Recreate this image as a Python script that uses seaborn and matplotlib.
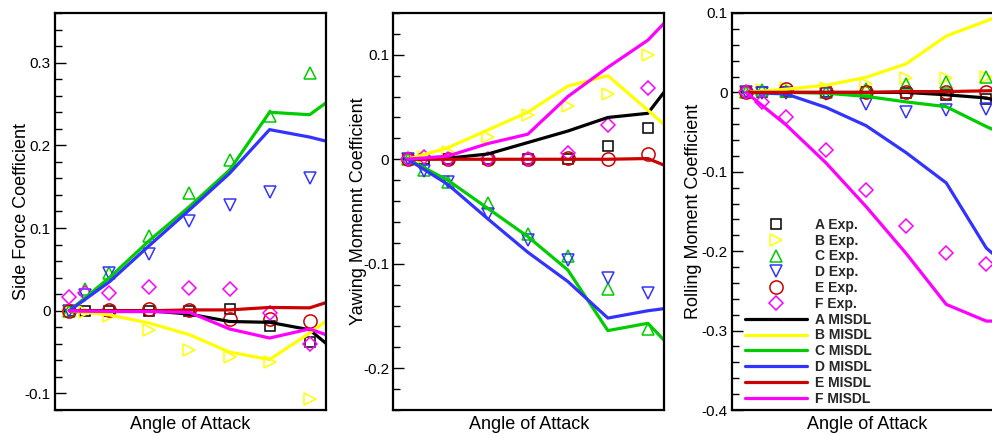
import numpy as np
import pandas as pd
import matplotlib
matplotlib.use('Agg')
import matplotlib.pyplot as plt
import seaborn as sns
from matplotlib.ticker import MultipleLocator, FuncFormatter

sns.set_theme(style='white')
plt.rcParams['font.family'] = ['Liberation Sans', 'DejaVu Sans']
plt.rcParams['axes.unicode_minus'] = False

# ---------------- data ----------------
cases = ['A', 'B', 'C', 'D', 'E', 'F']
colors = ['#000000', '#ffff00', '#00cc00', '#3333ff', '#cc0000', '#ff00ff']
markers = ['s', '>', '^', 'v', 'o', 'D']
marker_sizes = [7, 9, 9, 9, 9.5, 7]

aoa_exp = [0, 4, 10, 20, 30, 40, 50, 60]
aoa_cfd = [0, 10, 20, 30, 40, 50, 60, 70]
nan = np.nan

# Side force coefficient
side_exp = [
    [0, 0, 0, 0, 0, 0.002, -0.018, -0.038],
    [0, -0.001, -0.006, -0.023, -0.047, -0.056, -0.062, -0.107],
    [0, 0.026, 0.046, 0.090, 0.142, 0.182, 0.235, 0.287],
    [0, 0.019, 0.046, 0.069, 0.108, 0.128, 0.143, 0.160],
    [0, nan, 0.001, 0.002, 0.001, -0.010, -0.010, -0.012],
    [0.017, 0.021, 0.021, 0.029, 0.028, 0.026, -0.003, -0.040],
]
side_cfd = [
    [0, 0, 0, -0.004, -0.013, -0.014, -0.023, -0.063],
    [0, -0.005, -0.015, -0.029, -0.050, -0.059, -0.027, 0.008],
    [0, 0.040, 0.085, 0.126, 0.170, 0.240, 0.237, 0.272],
    [0, 0.035, 0.079, 0.122, 0.166, 0.219, 0.210, 0.198],
    [0, 0, 0, 0.001, 0.001, 0.004, 0.0035, 0.019],
    [0, -0.001, -0.001, -0.002, -0.022, -0.033, -0.022, -0.039],
]

# Yawing moment coefficient
yaw_exp = [
    [0, 0, 0, 0, 0, 0, 0.013, 0.030],
    [0, 0.002, 0.007, 0.021, 0.042, 0.051, 0.062, 0.100],
    [0, -0.010, -0.022, -0.042, -0.072, -0.093, -0.124, -0.162],
    [0, -0.011, -0.022, -0.052, -0.077, -0.096, -0.114, -0.128],
    [0, nan, 0, 0, 0, 0.001, 0, 0.005],
    [0, 0.002, 0, 0, 0, 0.006, 0.033, 0.068],
]
yaw_cfd = [
    [0, 0.001, 0.005, 0.016, 0.027, 0.040, 0.044, 0.094],
    [0, 0.011, 0.028, 0.045, 0.070, 0.080, 0.047, 0.013],
    [0, -0.020, -0.047, -0.074, -0.106, -0.164, -0.157, -0.197],
    [0, -0.024, -0.057, -0.089, -0.117, -0.152, -0.145, -0.140],
    [0, 0, 0, 0, 0, 0, 0.0007, -0.015],
    [0, 0.003, 0.015, 0.024, 0.060, 0.088, 0.114, 0.154],
]

# Rolling moment coefficient
roll_exp = [
    [0, 0, 0, 0, 0, -0.001, -0.003, -0.008],
    [0, 0.003, 0.005, 0.006, 0.011, 0.018, 0.018, 0.019],
    [0, 0.003, 0.002, 0.001, 0.004, 0.011, 0.013, 0.019],
    [0, -0.001, -0.001, -0.002, -0.015, -0.025, -0.022, -0.021],
    [0, nan, 0.004, 0, 0.001, 0, 0, 0],
    [0, -0.012, -0.031, -0.073, -0.123, -0.168, -0.202, -0.216],
]
roll_cfd = [
    [0, 0, 0, 0, 0, -0.003, -0.007, -0.020],
    [0, 0.004, 0.009, 0.019, 0.036, 0.071, 0.090, 0.110],
    [0, 0, -0.001, -0.005, -0.012, -0.018, -0.043, -0.065],
    [0, -0.002, -0.019, -0.042, -0.076, -0.114, -0.196, -0.240],
    [0, 0, 0, 0, 0.001, 0.001, 0.002, 0.003],
    [0, -0.041, -0.089, -0.144, -0.203, -0.267, -0.288, -0.288],
]

ylabels = ['Side Force Coefficient', 'Yawing Momennt Coefficient', 'Rolling Moment Coefficient']
ylims = [(-0.12, 0.36), (-0.24, 0.14), (-0.4, 0.1)]
exp_sets = [side_exp, yaw_exp, roll_exp]
cfd_sets = [side_cfd, yaw_cfd, roll_cfd]

# ---------------- figure ----------------
fig = plt.figure(figsize=(9.92, 4.36), dpi=100)
W = 271 / 992
H = 397 / 436
B = 26 / 436
lefts = [55 / 992, 393.3 / 992, 731.7 / 992]
label_x = [-0.092, -0.096, -0.111]


def fmt(v, pos):
    if abs(v) < 1e-9:
        return '0'
    return f'{v:.1f}'


axes = []
for k in range(3):
    ax = fig.add_axes([lefts[k], B, W, H])
    axes.append(ax)
    ex = exp_sets[k]
    cf = cfd_sets[k]
    for i, c in enumerate(cases):
        sns.lineplot(x=aoa_exp, y=ex[i], ax=ax, color=colors[i], marker=markers[i],
                     linestyle='', mfc='none', mec=colors[i], ms=marker_sizes[i], mew=1.1,
                     label=f'{c} Exp.', errorbar=None, estimator=None, sort=False)
    for i, c in enumerate(cases):
        sns.lineplot(x=aoa_cfd, y=cf[i], ax=ax, color=colors[i], lw=2.3,
                     label=f'{c} MISDL', errorbar=None, estimator=None, sort=False)
    if ax.get_legend() is not None:
        ax.get_legend().remove()

    ax.set_xlim(-3.6, 64.1)
    ax.set_ylim(*ylims[k])
    ax.set_xticks([])
    ax.yaxis.set_major_locator(MultipleLocator(0.1))
    ax.yaxis.set_minor_locator(MultipleLocator(0.02))
    ax.yaxis.set_major_formatter(FuncFormatter(fmt))
    ax.tick_params(axis='y', which='major', direction='in', length=8, width=1,
                   labelsize=11, pad=3, left=True, right=False, colors='black')
    ax.tick_params(axis='y', which='minor', direction='in', length=5, width=1,
                   left=True, right=False, colors='black')
    for sp in ax.spines.values():
        sp.set_linewidth(1.6)
        sp.set_color('black')
    ax.set_xlabel('Angle of Attack', fontsize=13, color='black')
    ax.set_ylabel(ylabels[k], fontsize=13, color='black')
    ax.xaxis.set_label_coords(0.5, -0.015)
    ax.yaxis.set_label_coords(label_x[k], 0.5)

ax3 = axes[2]
handles, labels = ax3.get_legend_handles_labels()
ax3.legend(handles, labels, loc='upper left', bbox_to_anchor=(0.049, 0.484),
           frameon=False, prop={'weight': 'bold', 'size': 10}, handlelength=4.44,
           handletextpad=0.6, labelspacing=0.13, borderpad=0, borderaxespad=0,
           numpoints=1)

fig.savefig('out.png', dpi=100)
